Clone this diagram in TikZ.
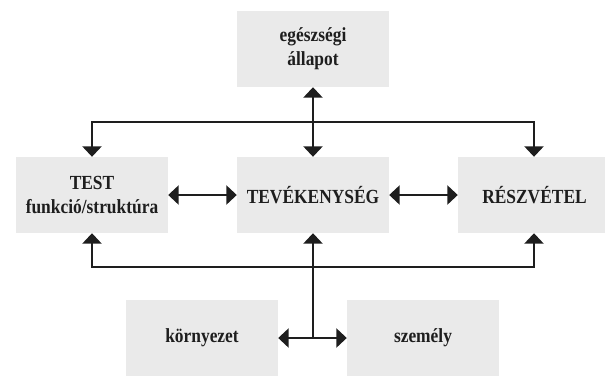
\documentclass[tikz,border=0pt]{standalone}
\usepackage{fontspec}
\setmainfont{Liberation Serif}[FakeStretch=0.87]
\usetikzlibrary{arrows.meta}
\definecolor{boxgray}{HTML}{EAEAEA}
\definecolor{inkc}{HTML}{1E1E1E}
\tikzset{
  box/.style={fill=boxgray, minimum width=152pt, minimum height=76pt, inner sep=0pt,
    align=center, text=inkc, font=\bfseries\fontsize{20}{24}\selectfont},
  tip/.tip={Triangle[width=19pt,length=10.5pt]},
  link/.style={draw=inkc, line width=2.5pt, tip-tip},
  onelink/.style={draw=inkc, line width=2.5pt, -tip}
}
\begin{document}
\begin{tikzpicture}[x=1pt,y=-1pt]
\useasboundingbox (0,0) rectangle (605,376);
\node[box] (egesz) at (313,49) {egészségi\\állapot};
\node[box] (test) at (92,195) {TEST\\funkció/struktúra};
\node[box] (tev) at (313,195) {TEVÉKENYSÉG};
\node[box, minimum width=147pt] (resz) at (531.5,195) {\hspace*{6pt}RÉSZVÉTEL};
\node[box] (korny) at (202,338) {környezet};
\node[box] (szem) at (423,338) {személy};
\coordinate (hubA) at (313,122);
\coordinate (hubB) at (313,267);
% upper connectors
\draw[link] (egesz.south) -- (tev.north);
\draw[link] (test.north) -- (test.north |- hubA) -- ([xshift=2.5pt]resz.north |- hubA) -- ([xshift=2.5pt]resz.north);
% middle connectors
\draw[link] (test.east) -- (tev.west);
\draw[link] (tev.east) -- (resz.west);
% lower connectors
\draw[link] (test.south) -- (test.south |- hubB) -- ([xshift=2.5pt]resz.south |- hubB) -- ([xshift=2.5pt]resz.south);
\draw[onelink] (tev.south |- korny.east) -- (tev.south);
\draw[link] (korny.east) -- (szem.west);
\end{tikzpicture}
\end{document}
